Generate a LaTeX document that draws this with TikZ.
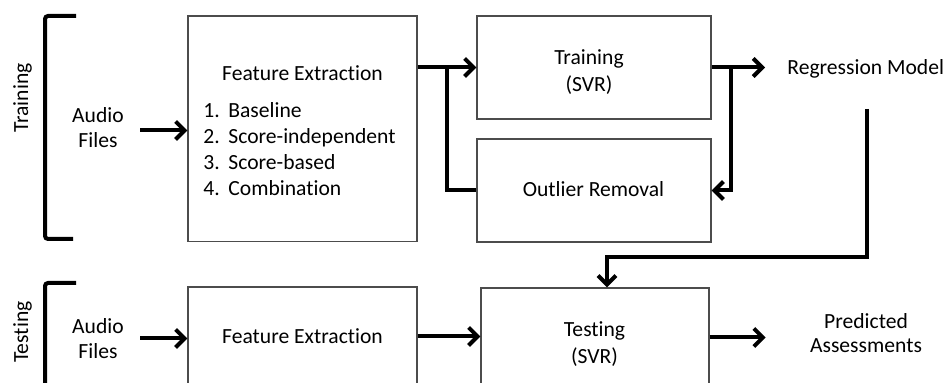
\documentclass[tikz,border=0pt]{standalone}
\usepackage{fontspec}
\setmainfont[Ligatures=NoCommon]{Carlito}
\usetikzlibrary{arrows.meta,calc}
\begin{document}
\begin{tikzpicture}[x=0.5pt,y=-0.5pt,
  txt/.style={inner sep=0pt, font=\fontsize{10.8}{12.2}\selectfont},
  boxnode/.style={draw=black!70, line width=0.6pt, inner sep=0pt},
  thk/.style={line width=2pt, black},
  arr/.style={thk, -{Straight Barb[length=4.5pt,width=9pt]}},
  brk/.style={line width=2pt, black, rounded corners=1.5pt}
]
\useasboundingbox (0,0) rectangle (946,383);
\clip (0,0) rectangle (946,383);

% brackets
\draw[brk] (76,16) -- (45,16) -- (45,239) -- (73,239);
\draw[brk] (76,283) -- (45,283) -- (45,400);
\node[txt, rotate=90] (lbltrain) at (22.5,98) {Training};
\node[txt, rotate=90] (lbltest) at (22.5,332) {Testing};

% training row
\node[txt, align=center] (au1) at (98,127.5) {Audio\\Files};
\node[boxnode, minimum width=114.5pt, minimum height=112.75pt] (fe1) at (302.5,128.75) {};
\node[txt, anchor=base] (fe1t) at (302.5,80.7) {Feature Extraction};
\node[txt, anchor=base west, font=\fontsize{10.8}{12.9}\selectfont] (fe1l) at (203,118) {\begin{tabular}[t]{@{}p{12.5pt}@{}l@{}}1.&Baseline\\2.&Score-independent\\3.&Score-based\\4.&Combination\end{tabular}};
\node[boxnode, minimum width=117pt, minimum height=51.5pt] (tr) at (594,67.5) {};
\node[txt, anchor=base] (trt1) at (589,65) {Training};
\node[txt, anchor=base] (trt2) at (589,91.7) {(SVR)};
\node[boxnode, minimum width=117pt, minimum height=51.5pt] (ol) at (594,190.5) {};
\node[txt, anchor=base] (olt) at (593.5,196.7) {Outlier Removal};
\node[txt, anchor=base west] (rm) at (787,75) {Regression Model};

% testing row
\node[txt, align=center] (au2) at (98,338.5) {Audio\\Files};
\node[boxnode, minimum width=114.5pt, minimum height=51.5pt] (fe2) at (302.5,338.5) {};
\node[txt, anchor=base] (fe2t) at (302.5,344) {Feature Extraction};
\node[boxnode, minimum width=114pt, minimum height=51.5pt] (ts) at (595,339.5) {};
\node[txt, anchor=base] (tst1) at (594.5,336.7) {Testing};
\node[txt, anchor=base] (tst2) at (594.5,363.3) {(SVR)};
\node[txt, align=center] (pa) at (866,333.2) {Predicted\\Assessments};

% connectors
\draw[arr] ([xshift=8pt,yshift=-1.5pt]au1.east) -- ([yshift=-1.5pt]au1.east -| fe1.west);
\draw[arr] (tr.west -| fe1.east) -- (tr.west);
\draw[thk] ($(tr.west -| fe1.east)!0.5!(tr.west)$) |- (ol.west);
\draw[arr, shorten >=11pt] (tr.east) -- (tr.east -| rm.west);
\draw[arr] ([xshift=9.5pt]tr.east) |- (ol.east);
\coordinate (rmd) at (867,109);
\coordinate (bend) at (607,257);
\draw[arr] (rmd) |- (bend) -- (bend |- ts.north);
\draw[arr] ([xshift=8pt]au2.east) -- (au2.east -| fe2.west);
\draw[arr] ([yshift=1pt]fe2.east) -- ([yshift=1pt]fe2.east -| ts.west);
\draw[arr, shorten >=22pt] ([yshift=1pt]ts.east) -- ([yshift=1pt]ts.east -| pa.west);
\end{tikzpicture}
\end{document}
